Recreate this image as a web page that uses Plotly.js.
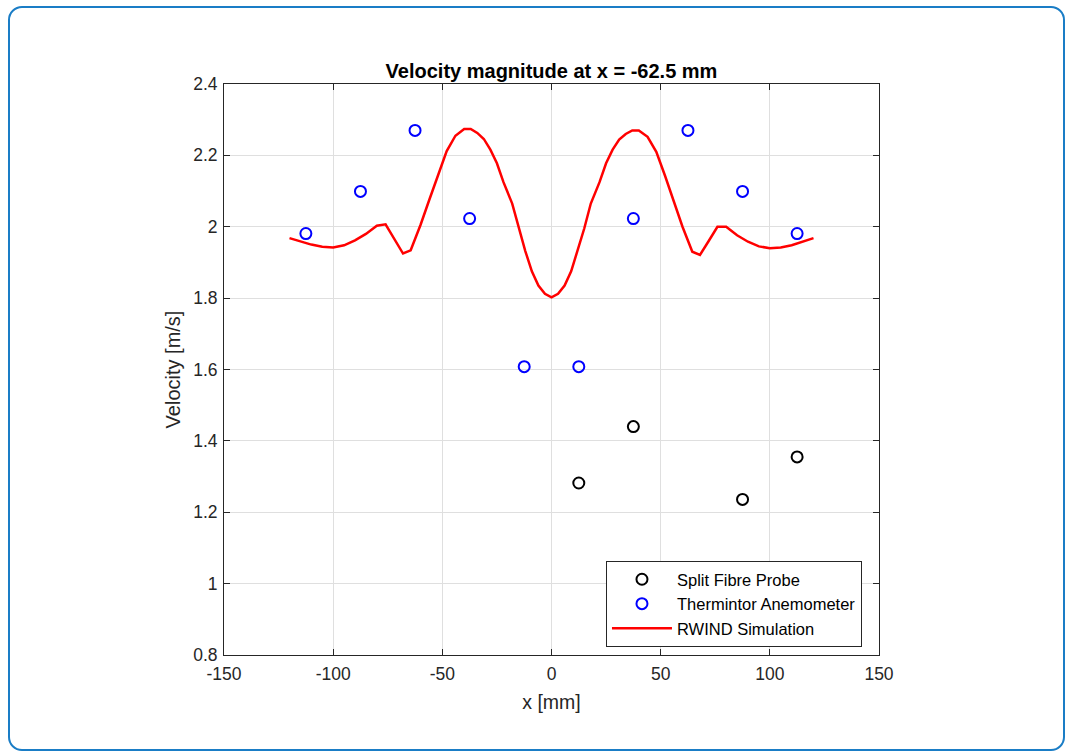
<!DOCTYPE html>
<html>
<head>
<meta charset="utf-8">
<script src="https://cdn.plot.ly/plotly-3.0.1.min.js"></script>
<style>
  html, body { margin: 0; padding: 0; background: #fff; }
  #wrap { position: relative; width: 1069px; height: 753px; }
  #chart { position: absolute; left: 0; top: 0; width: 1069px; height: 753px; }
  #frame { position: absolute; left: 8px; top: 6px; width: 1053px; height: 741px;
           border: 2.5px solid #1a7dc6; border-radius: 14px; pointer-events: none; }
</style>
</head>
<body>
<div id="wrap">
  <div id="chart"></div>
  <div id="frame"></div>
</div>
<script>
// Split Fibre Probe measurements
const splitX = [12.5, 37.5, 87.5, 112.5];
const splitY = [1.282, 1.440, 1.236, 1.355];

// Thermintor Anemometer measurements
const thermX = [-112.5, -87.5, -62.5, -37.5, -12.5, 12.5, 37.5, 62.5, 87.5, 112.5];
const thermY = [1.981, 2.099, 2.270, 2.023, 1.608, 1.608, 2.023, 2.270, 2.099, 1.981];

// RWIND Simulation profile
const simX = [-120, -115, -110, -105, -100, -95, -90, -85, -80, -76, -72, -68, -64.5, -60, -56, -52, -48, -44, -40, -37, -34, -31, -28, -25, -22, -18, -15, -12, -9, -6, -3, 0,
              3, 6, 9, 12, 15, 18, 22, 25, 28, 31, 34, 37, 40, 44, 48, 52, 56, 60, 64.5, 68, 72, 76, 80, 85, 90, 95, 100, 105, 110, 115, 120];
const simY = [1.968, 1.958, 1.950, 1.944, 1.942, 1.948, 1.962, 1.980, 2.003, 2.007, 1.965, 1.925, 1.934, 2.005, 2.075, 2.145, 2.212, 2.255, 2.274, 2.274, 2.263, 2.246, 2.216, 2.178, 2.125, 2.065, 1.995, 1.932, 1.875, 1.835, 1.812, 1.802,
              1.812, 1.835, 1.875, 1.932, 1.995, 2.065, 2.125, 2.178, 2.216, 2.244, 2.260, 2.270, 2.270, 2.252, 2.210, 2.143, 2.073, 2.000, 1.930, 1.921, 1.960, 2.000, 2.000, 1.976, 1.958, 1.945, 1.940, 1.942, 1.948, 1.957, 1.968];

const xTickVals = [-150, -100, -50, 0, 50, 100, 150];
const xTickText = ['-150', '-100', '-50', '0', '50', '100', '150'];
const yTickVals = [0.8, 1, 1.2, 1.4, 1.6, 1.8, 2, 2.2, 2.4];
const yTickText = ['0.8', '1', '1.2', '1.4', '1.6', '1.8', '2', '2.2', '2.4'];

const font = 'Liberation Sans, Arial, Helvetica, sans-serif';
const axisCol = '#262626';
const gridCol = '#dfdfdf';

const traces = [
  { x: splitX, y: splitY, type: 'scatter', mode: 'markers', name: 'Split Fibre Probe',
    marker: { symbol: 'circle-open', size: 11, color: '#000000', line: { width: 2, color: '#000000' } } },
  { x: thermX, y: thermY, type: 'scatter', mode: 'markers', name: 'Thermintor Anemometer',
    marker: { symbol: 'circle-open', size: 11, color: '#0000ff', line: { width: 2, color: '#0000ff' } } },
  { x: simX, y: simY, type: 'scatter', mode: 'lines', name: 'RWIND Simulation',
    line: { color: '#ff0000', width: 2.5 } }
];

const axisCommon = {
  showline: true, linecolor: axisCol, linewidth: 1, mirror: 'ticks',
  ticks: 'inside', ticklen: 6, tickcolor: axisCol, tickwidth: 1,
  showgrid: true, gridcolor: gridCol, gridwidth: 1, zeroline: false,
  tickfont: { family: font, size: 17.5, color: axisCol },
  tickmode: 'array'
};

const layout = {
  width: 1069, height: 753,
  paper_bgcolor: '#ffffff', plot_bgcolor: '#ffffff',
  margin: { l: 224, r: 190, t: 84, b: 98, pad: 0 },
  title: { text: '<b>Velocity magnitude at x = -62.5 mm</b>', font: { family: font, size: 20, color: '#000000' },
           x: 0.5, xref: 'paper', xanchor: 'center', y: 1, yref: 'paper', yanchor: 'bottom', pad: { b: 6 } },
  xaxis: Object.assign({}, axisCommon, {
    range: [-150, 150], tickvals: xTickVals, ticktext: xTickText, ticklabelstandoff: 3,
    title: { text: 'x [mm]', font: { family: font, size: 19.5, color: axisCol }, standoff: 12 }
  }),
  yaxis: Object.assign({}, axisCommon, {
    range: [0.8, 2.4], tickvals: yTickVals, ticktext: yTickText, ticklabelstandoff: 2,
    title: { text: 'Velocity [m/s]', font: { family: font, size: 20, color: axisCol }, standoff: 7 }
  }),
  showlegend: true,
  legend: {
    x: 0.974, y: 0.014, xanchor: 'right', yanchor: 'bottom',
    bgcolor: '#ffffff', bordercolor: axisCol, borderwidth: 1,
    font: { family: font, size: 16.5, color: '#000000' },
    tracegroupgap: 0, itemwidth: 60
  }
};

Plotly.newPlot('chart', traces, layout, { displayModeBar: false, staticPlot: true });
</script>
</body>
</html>
